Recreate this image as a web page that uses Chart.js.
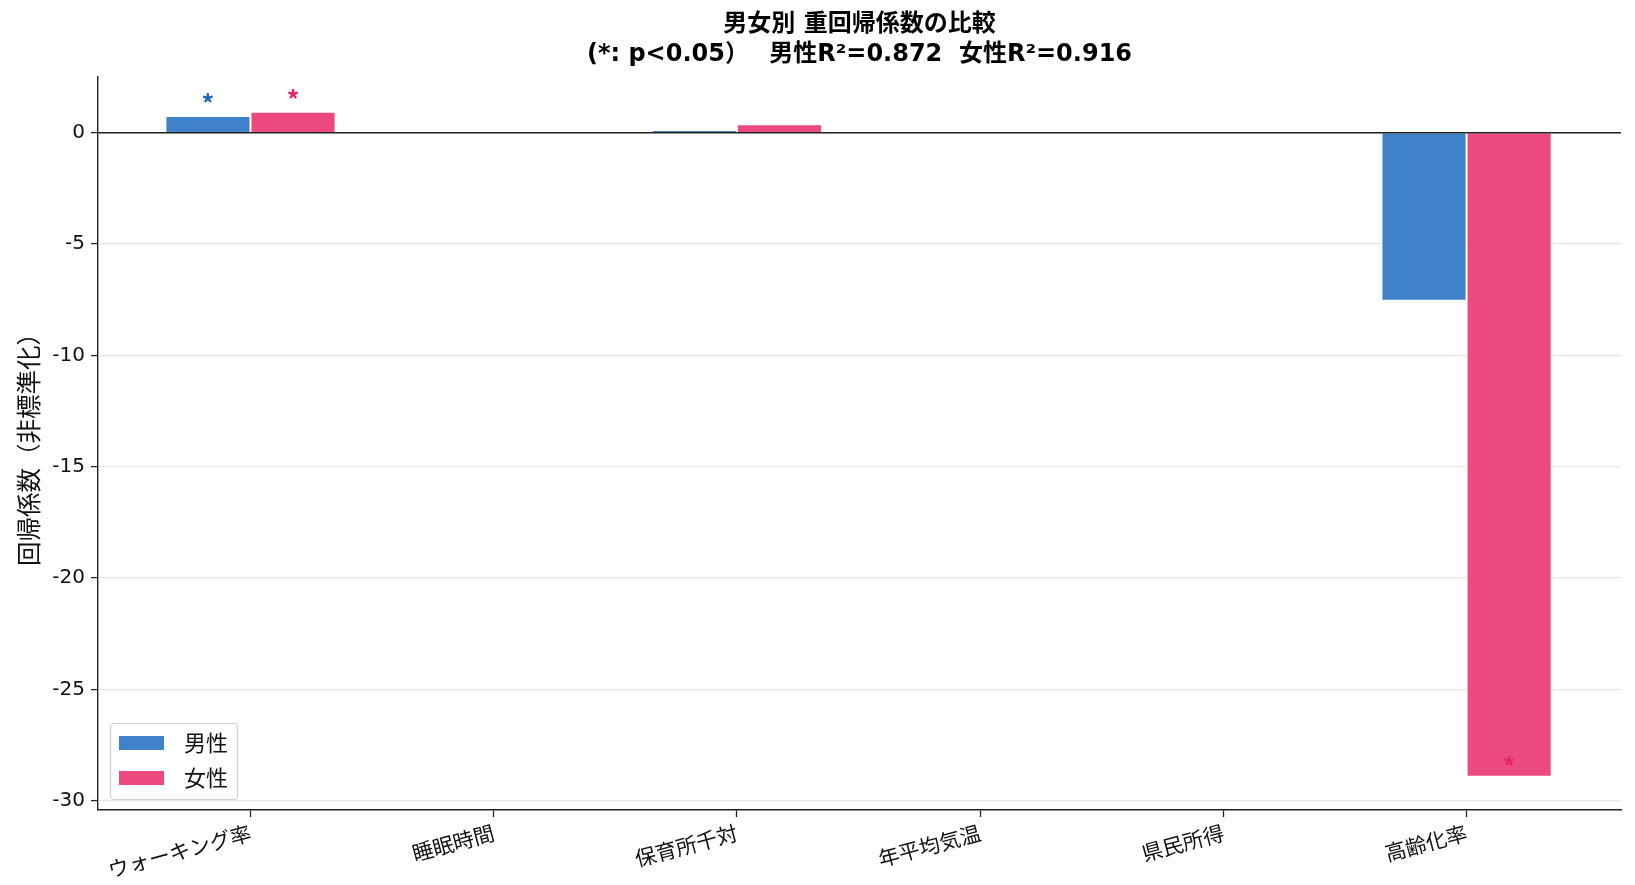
<!DOCTYPE html>
<html><head><meta charset="utf-8">
<script src="https://cdn.jsdelivr.net/npm/chart.js@4"></script>
<style>html,body{margin:0;padding:0;background:#fff;}#wrap{width:1635px;height:885px;}</style>
</head><body><div id="wrap"><canvas id="c" width="1635" height="885"></canvas></div>
<script>
const categories = ["ウォーキング率","睡眠時間","保育所千対","年平均気温","県民所得","高齢化率"];
const maleValues = [0.75, 0.0, 0.12, 0.04, 0.0, -7.55];
const femaleValues = [0.94, 0.0, 0.38, -0.01, 0.0, -28.93];
const maleSig = [true, false, false, false, false, false];
const femaleSig = [true, false, false, false, false, true];
const yTicks = [0, -5, -10, -15, -20, -25, -30];
const seriesNames = ["男性", "女性"];
const titleLines = ["男女別 重回帰係数の比較", "(*: p<0.05）　 男性R²=0.872  女性R²=0.916"];

const FONT = "'DejaVu Sans', 'Noto Sans CJK JP', sans-serif";
const CJK = "'Noto Sans CJK JP', 'DejaVu Sans', sans-serif";
const maleColor = "#3F81CB";
const femaleColor = "#EC4A7F";
const maleStar = "#1E66C4";
const femaleStar = "#E8236B";

const overlay = {
  id: 'overlay',
  afterDatasetsDraw(chart) {
    const ctx = chart.ctx, y = chart.scales.y, a = chart.chartArea;
    ctx.save();
    // zero line
    ctx.strokeStyle = '#222'; ctx.lineWidth = 1.5;
    const y0 = y.getPixelForValue(0);
    ctx.beginPath(); ctx.moveTo(a.left, y0); ctx.lineTo(a.right, y0); ctx.stroke();
    // asterisks
    ctx.font = "bold 25px " + CJK;
    ctx.textAlign = 'center'; ctx.textBaseline = 'alphabetic';
    const metas = [chart.getDatasetMeta(0), chart.getDatasetMeta(1)];
    [[maleValues, maleSig, maleStar, 0], [femaleValues, femaleSig, femaleStar, 1]].forEach(([vals, sig, col, di]) => {
      vals.forEach((v, i) => {
        if (!sig[i]) return;
        const bar = metas[di].data[i];
        const cy = v >= 0 ? y.getPixelForValue(v) - 18 : y.getPixelForValue(v) - 16;
        ctx.fillStyle = col;
        ctx.fillText('*', bar.x, cy + 15);
      });
    });
    // legend
    const lx = 110, ly = 723, lw = 127, lh = 76;
    ctx.fillStyle = 'rgba(255,255,255,0.8)';
    ctx.strokeStyle = '#d0d0d0'; ctx.lineWidth = 1.2;
    ctx.beginPath();
    ctx.roundRect(lx + 0.5, ly + 0.5, lw, lh, 4);
    ctx.fill(); ctx.stroke();
    ctx.font = "22px " + CJK; ctx.textAlign = 'left'; ctx.textBaseline = 'middle';
    [[maleColor, seriesNames[0], 743], [femaleColor, seriesNames[1], 778]].forEach(([c, t, cy]) => {
      ctx.fillStyle = c; ctx.fillRect(119, cy - 7, 45, 14);
      ctx.fillStyle = '#111'; ctx.fillText(t, 184, cy);
    });
    ctx.restore();
  }
};

new Chart(document.getElementById('c'), {
  type: 'bar',
  data: {
    datasets: [
      { label: seriesNames[0], data: maleValues.map((v, i) => ({x: i, y: v})), backgroundColor: maleColor, borderColor: '#ffffff', borderWidth: 1, borderSkipped: 'start', categoryPercentage: 0.7, barPercentage: 1.0 },
      { label: seriesNames[1], data: femaleValues.map((v, i) => ({x: i, y: v})), backgroundColor: femaleColor, borderColor: '#ffffff', borderWidth: 1, borderSkipped: 'start', categoryPercentage: 0.7, barPercentage: 1.0 }
    ]
  },
  options: {
    responsive: false, animation: false,
    layout: { padding: { top: 10, right: 14, left: 14, bottom: 0 } },
    plugins: {
      legend: { display: false },
      tooltip: { enabled: false },
      title: { display: true, fullSize: false, text: titleLines, color: '#000', font: { family: FONT, size: 24, weight: 'bold', lineHeight: 1.25 }, padding: { top: 0, bottom: 7 } }
    },
    scales: {
      x: {
        type: 'linear', min: -0.627, max: 5.635, offset: false,
        afterBuildTicks(s) { s.ticks = categories.map((_, i) => ({ value: i })); },
        afterFit(s) { s.height = 885 - 810; },
        ticks: { autoSkip: false, minRotation: 15, maxRotation: 15, color: '#111', font: { family: CJK, size: 21 }, padding: 3, callback: (v) => categories[v] },
        grid: { display: true, offset: false, drawOnChartArea: false, drawTicks: true, tickLength: 7, tickColor: '#222', tickWidth: 1.3 },
        border: { display: true, color: '#222', width: 1.4 }
      },
      y: {
        min: -30.42, max: 2.5,
        afterBuildTicks(s) { s.ticks = yTicks.map(v => ({ value: v })); },
        afterFit(s) { s.width = 98 - 14; },
        ticks: { color: '#111', font: { family: FONT, size: 20 }, padding: 6, callback: (v) => String(v) },
        grid: { display: true, color: '#e6e6e6', lineWidth: 1.2, tickColor: '#222', tickLength: 7, tickWidth: 1.3 },
        border: { display: true, color: '#222', width: 1.4 },
        title: { display: true, text: '回帰係数（非標準化）', color: '#111', font: { family: CJK, size: 24.5 }, padding: { top: 0, bottom: 2 } }
      }
    }
  },
  plugins: [overlay]
});
</script></body></html>
